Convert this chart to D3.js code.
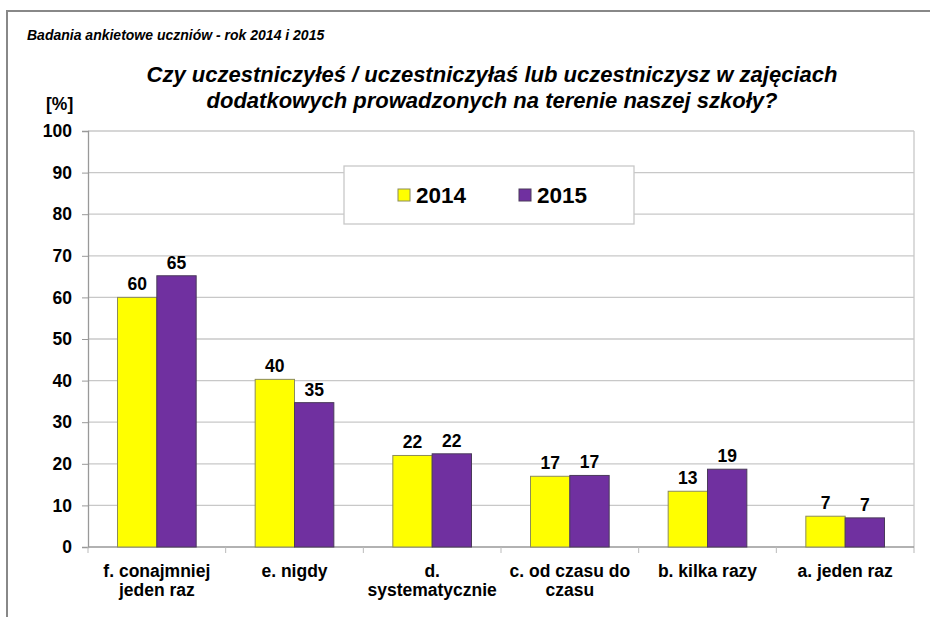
<!DOCTYPE html>
<html>
<head>
<meta charset="utf-8">
<script src="https://cdn.jsdelivr.net/npm/d3@7"></script>
<style>
  body { margin: 0; background: #fff; }
  text { font-family: "Liberation Sans", Arial, sans-serif; fill: #000; }
</style>
</head>
<body>
<script>
// data
var categories = [["f. conajmniej", "jeden raz"], ["e. nigdy"], ["d.", "systematycznie"],
                  ["c. od czasu do", "czasu"], ["b. kilka razy"], ["a. jeden raz"]];
var years = ["2014", "2015"];
var values2014 = [60.0, 40.3, 22.0, 17.0, 13.4, 7.4];
var values2015 = [65.2, 34.7, 22.4, 17.2, 18.7, 7.0];
var yTicks = [0, 10, 20, 30, 40, 50, 60, 70, 80, 90, 100];

var colors = {"2014": "#ffff00", "2015": "#7030a0"};
var strokes = {"2014": "#8c8c5a", "2015": "#4a3a5a"};

var width = 930, height = 617;
var plot = {left: 88, right: 914, top: 131, bottom: 547};

var svg = d3.select("body").append("svg")
    .attr("width", width)
    .attr("height", height);

// outer frame
svg.append("path")
    .attr("d", "M7,617 V11 H930")
    .attr("fill", "none")
    .attr("stroke", "#888")
    .attr("stroke-width", 2);

var xScale = d3.scaleBand().domain(d3.range(categories.length))
    .range([plot.left, plot.right]).paddingInner(0).paddingOuter(0);
var yScale = d3.scaleLinear().domain([0, 100]).range([plot.bottom, plot.top]);
var barW = xScale.bandwidth() / 3.5;
var xSub = d3.scaleBand().domain(years)
    .range([xScale.bandwidth() / 2 - barW, xScale.bandwidth() / 2 + barW]);

// gridlines
svg.append("g").selectAll("line").data(yTicks.filter(function (d) { return d > 0; }))
    .enter().append("line")
    .attr("x1", plot.left).attr("x2", plot.right)
    .attr("y1", function (d) { return yScale(d); })
    .attr("y2", function (d) { return yScale(d); })
    .attr("stroke", "#c8c8c8").attr("stroke-width", 1.3);

// y axis
var yAxis = svg.append("g")
    .attr("transform", "translate(" + plot.left + ",0)")
    .call(d3.axisLeft(yScale).tickValues(yTicks).tickSize(6).tickPadding(10));
yAxis.select(".domain").attr("stroke", "#999").attr("stroke-width", 1.3);
yAxis.selectAll(".tick line").attr("stroke", "#999");
yAxis.selectAll("text")
    .style("font-size", "17.5px").style("font-weight", "bold")
    .style("font-family", "Liberation Sans, Arial, sans-serif");

// right border of the plot area
svg.append("line")
    .attr("x1", plot.right).attr("x2", plot.right)
    .attr("y1", plot.top).attr("y2", plot.bottom + 6)
    .attr("stroke", "#c8c8c8").attr("stroke-width", 1.3);

// x axis
svg.append("line")
    .attr("x1", plot.left).attr("x2", plot.right)
    .attr("y1", plot.bottom).attr("y2", plot.bottom)
    .attr("stroke", "#999").attr("stroke-width", 1.3);
svg.append("g").selectAll("line").data(d3.range(categories.length))
    .enter().append("line")
    .attr("x1", function (d) { return xScale(d); })
    .attr("x2", function (d) { return xScale(d); })
    .attr("y1", plot.bottom).attr("y2", plot.bottom + 6)
    .attr("stroke", "#bbb");

var xLabels = svg.append("g").selectAll("text").data(categories)
    .enter().append("text")
    .attr("text-anchor", "middle")
    .style("font-size", "17.5px").style("font-weight", "bold");
xLabels.each(function (lines, i) {
    var t = d3.select(this);
    lines.forEach(function (l, j) {
        t.append("tspan")
            .attr("x", xScale(i) + xScale.bandwidth() / 2)
            .attr("y", 577 + j * 19)
            .text(l);
    });
});

// bars
var series = [{year: "2014", values: values2014}, {year: "2015", values: values2015}];
var fmt = d3.format(".0f");
series.forEach(function (s) {
    var g = svg.append("g");
    g.selectAll("rect").data(s.values).enter().append("rect")
        .attr("x", function (d, i) { return xScale(i) + xSub(s.year); })
        .attr("y", function (d) { return yScale(d); })
        .attr("width", xSub.bandwidth())
        .attr("height", function (d) { return yScale(0) - yScale(d); })
        .attr("fill", colors[s.year])
        .attr("stroke", strokes[s.year])
        .attr("stroke-width", 1);
    g.selectAll("text").data(s.values).enter().append("text")
        .attr("x", function (d, i) { return xScale(i) + xSub(s.year) + xSub.bandwidth() / 2; })
        .attr("y", function (d) { return yScale(d) - 7; })
        .attr("text-anchor", "middle")
        .style("font-size", "17.5px").style("font-weight", "bold")
        .text(function (d) { return fmt(d); });
});

// legend
var legend = svg.append("g");
legend.append("rect")
    .attr("x", 344).attr("y", 166).attr("width", 290).attr("height", 58)
    .attr("fill", "#fff").attr("stroke", "#c8c8c8").attr("stroke-width", 1.3);
years.forEach(function (y, i) {
    var lx = 398 + i * 121;
    legend.append("rect")
        .attr("x", lx).attr("y", 189).attr("width", 12).attr("height", 12)
        .attr("fill", colors[y]).attr("stroke", strokes[y]);
    legend.append("text")
        .attr("x", lx + 18).attr("y", 203)
        .style("font-size", "22.5px").style("font-weight", "bold")
        .text(y);
});

// texts
svg.append("text")
    .attr("x", 27).attr("y", 40)
    .style("font-size", "14px").style("font-style", "italic").style("font-weight", "bold")
    .text("Badania ankietowe uczniów - rok 2014 i 2015");

svg.append("text")
    .attr("text-anchor", "middle")
    .style("font-size", "22px").style("font-weight", "bold").style("font-style", "italic")
    .selectAll("tspan")
    .data(["Czy uczestniczyłeś / uczestniczyłaś lub uczestniczysz w zajęciach",
           "dodatkowych prowadzonych na terenie naszej szkoły?"])
    .enter().append("tspan")
    .attr("x", 492)
    .attr("y", function (d, i) { return 82 + i * 26; })
    .text(function (d) { return d; });

svg.append("text")
    .attr("x", 46).attr("y", 110)
    .style("font-size", "17.5px").style("font-weight", "bold")
    .text("[%]");
</script>
</body>
</html>
